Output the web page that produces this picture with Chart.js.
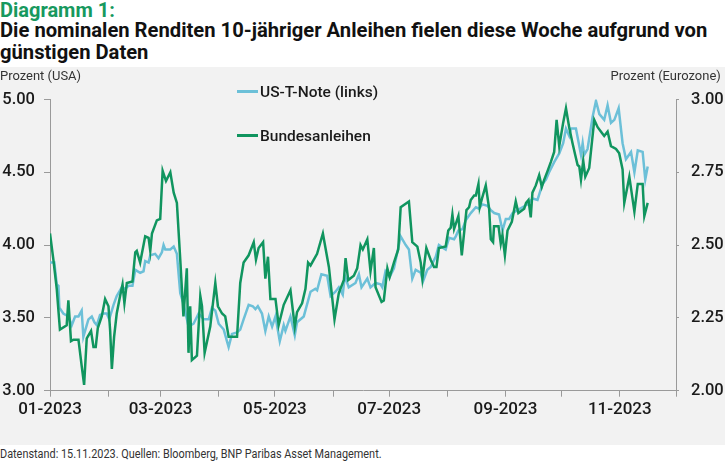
<!DOCTYPE html>
<html lang="de">
<head>
<meta charset="utf-8">
<script src="https://cdn.jsdelivr.net/npm/chart.js@4/dist/chart.umd.min.js"></script>
<style>
  html, body { margin: 0; padding: 0; background: #fff; }
  body { width: 725px; height: 463px; position: relative; overflow: hidden; font-family: Roboto, 'Noto Sans', sans-serif; color: #1a1a1a; }
  #kicker { position: absolute; left: 0; top: -2px; font-weight: 700; font-size: 20px; color: #17995e; }
  #title { position: absolute; left: 0; top: 19px; width: 760px; font-weight: 700; font-size: 20.2px; line-height: 22px; color: #111; }
  #panel { position: absolute; left: 0; top: 67px; width: 725px; height: 378px; background: #f2f2f2; }
  #chart { position: absolute; left: 0; top: 0; }
  .unit { position: absolute; top: 0px; font-size: 13.5px; color: #333; transform: scaleX(0.96); }
  #unitLeft { left: 0px; transform-origin: left top; }
  #unitRight { right: 4px; transform-origin: right top; }
  .legend { position: absolute; left: 237px; font-size: 15.5px; font-weight: 500; color: #1a1a1a; white-space: nowrap; }
  .legend i { display: inline-block; width: 21px; height: 3px; vertical-align: middle; margin-right: 2px; position: relative; top: -1px; }
  #footer { position: absolute; left: 0; top: 447px; font-size: 12.3px; color: #333; white-space: nowrap; transform: scaleX(0.885); transform-origin: left top; }
</style>
</head>
<body>
<div id="kicker">Diagramm 1:</div>
<div id="title">Die nominalen Renditen 10-jähriger Anleihen fielen diese Woche aufgrund von<br>günstigen Daten</div>
<div id="panel">
  <canvas id="chart" width="725" height="378"></canvas>
  <div class="unit" id="unitLeft">Prozent (USA)</div>
  <div class="unit" id="unitRight">Prozent (Eurozone)</div>
  <div class="legend" style="top:16px"><i style="background:#6cc0d8"></i>US-T-Note (links)</div>
  <div class="legend" style="top:60px"><i style="background:#10955f"></i>Bundesanleihen</div>
</div>
<div id="footer">Datenstand: 15.11.2023. Quellen: Bloomberg, BNP Paribas Asset Management.</div>
<script>
// x = days since 01.01.2023
const monthStarts = [0, 31, 59, 90, 120, 151, 181, 212, 243, 273, 304, 334];
const monthLabels = ['01-2023', '', '03-2023', '', '05-2023', '', '07-2023', '', '09-2023', '', '11-2023', ''];

// US-T-Note 10 J. (linke Achse, %)
const usDays = [0, 2.3, 3.6, 4.5, 5.0, 7.1, 9.8, 11.6, 13.4, 15.2, 16.9, 17.8, 19.6, 20.5, 22.3, 23.7, 25, 26.7, 28.5, 30.3,
  31.6, 33.9, 35.6, 38.3, 40.1, 41.9, 44, 45.5, 48.1, 49.9, 50.8, 52.6, 53.5, 56.1, 57.9, 59.7, 60.6, 61.5, 64.2, 66,
  67.7, 69.5, 71.2, 73.9, 76.6, 79.3, 82, 84.7, 86.4, 88.2, 90, 92.7, 94.4, 95.3, 97.1, 99.8, 101.5, 103.3, 106, 108.2,
  109.6, 110.9, 113.1, 114.9, 116.7, 118.5, 120.3, 122.6, 124.7, 125.6, 128.3, 130.6, 131.8, 135.4, 139, 141.6, 142.5, 144.8, 147.9, 149.7,
  152.3, 154.1, 156.2, 157.3, 159.4, 163, 164.8, 166.2, 169.3, 171, 173.7, 176.4, 177.3, 179, 181.2, 183.5, 187.1, 189.8, 191.5, 193.3,
  195.1, 197.8, 199, 201.3, 203.1, 205.8, 207.5, 211.1, 212.9, 215.6, 216.5, 217.9, 220.1, 221.8, 224.5, 227.2, 228.9, 230.7, 233.4, 235.2,
  237, 239.6, 241.4, 243.2, 245, 246.8, 249.4, 252.1, 254.8, 257.5, 260.1, 262.8, 264.6, 266.3, 269, 271.7, 273.8, 275.3, 277, 277.9,
  280.6, 283.3, 284.2, 285, 286.8, 289.5, 291.3, 293.1, 295.7, 297.5, 299.3, 301.1, 303.4, 305.5, 307.3, 310, 311.8, 313.6, 316.2, 317.6, 318.9];
const usYield = [3.88, 3.88, 3.73, 3.72, 3.57, 3.53, 3.51, 3.45, 3.51, 3.51, 3.55, 3.37, 3.45, 3.49, 3.51, 3.47, 3.45, 3.52, 3.53, 3.53,
  3.49, 3.59, 3.65, 3.71, 3.70, 3.72, 3.72, 3.83, 3.81, 3.82, 3.89, 3.88, 3.93, 3.94, 3.91, 3.95, 4.00, 3.97, 3.97, 3.99,
  3.94, 3.67, 3.60, 3.44, 3.46, 3.53, 3.49, 3.49, 3.57, 3.55, 3.46, 3.42, 3.34, 3.30, 3.39, 3.40, 3.42, 3.49, 3.59, 3.58,
  3.56, 3.58, 3.53, 3.41, 3.51, 3.44, 3.51, 3.34, 3.45, 3.41, 3.51, 3.38, 3.47, 3.51, 3.68, 3.70, 3.69, 3.80, 3.79, 3.65,
  3.68, 3.71, 3.66, 3.79, 3.71, 3.74, 3.80, 3.71, 3.77, 3.71, 3.74, 3.73, 3.71, 3.82, 3.78, 3.84, 4.06, 4.00, 3.97, 3.77,
  3.83, 3.81, 3.75, 3.83, 3.85, 3.92, 4.00, 3.97, 4.05, 4.04, 4.06, 4.10, 4.11, 4.17, 4.22, 4.26, 4.25, 4.28, 4.27, 4.24,
  4.22, 4.21, 4.10, 4.18, 4.18, 4.22, 4.24, 4.26, 4.28, 4.32, 4.31, 4.42, 4.45, 4.50, 4.57, 4.63, 4.70, 4.80, 4.75, 4.80,
  4.80, 4.62, 4.70, 4.62, 4.66, 4.88, 4.99, 4.90, 4.86, 4.96, 4.84, 4.86, 4.94, 4.70, 4.59, 4.64, 4.50, 4.65, 4.64, 4.45, 4.54];

// Bundesanleihen 10 J. (rechte Achse, %)
const bundDays = [0, 1.8, 3.6, 4.5, 5.3, 8.9, 9.8, 11.2, 12.5, 15.2, 16.9, 18.2, 19.6, 21.9, 23.2, 24.4, 25.5, 27.6, 29.4, 31.2,
  32.1, 33, 34.2, 35.6, 37.4, 38.7, 39.7, 41, 44, 45.5, 46.3, 48.1, 50.8, 52.6, 53.5, 54.4, 57, 58.8, 60.1, 61.9,
  64.2, 66, 67.7, 69.5, 71.2, 73, 73.9, 74.8, 75.7, 78.4, 80.2, 81.1, 82.5, 85.5, 88.2, 89.6, 91.8, 93.5, 95.3, 99.8,
  101.5, 103.3, 106, 108.7, 109.9, 111.3, 113.7, 114.9, 116.3, 117.6, 120.3, 122, 124.7, 128.3, 130.6, 131.8, 134.5, 136.3, 137.7, 139,
  142.5, 145.6, 148.8, 151.8, 154.1, 156.8, 157.7, 159.1, 162.1, 163.9, 165.7, 166.9, 169.3, 171, 172.8, 173.7, 176.9, 178.1, 180, 181.2,
  183.5, 185.8, 187.1, 191.5, 193.3, 196, 197.8, 198.7, 200.8, 203.1, 204.9, 206.2, 207.5, 211.1, 212.5, 213.8, 214.7, 215.6, 217.9, 219.7,
  222.2, 223.6, 224.5, 226.3, 227.2, 228.6, 229.3, 230.7, 232.5, 234.3, 235.2, 236.4, 236.9, 239.3, 240.5, 241.4, 242.7, 244.1, 246.4, 248.5,
  249.9, 253, 254, 255.3, 256.5, 257.4, 259.2, 261, 262.4, 263.7, 265.5, 267.2, 269, 270.3, 271.7, 273.8, 275.3, 277, 278.8, 280.2,
  281.5, 282.4, 283.3, 284.5, 285.6, 287.7, 290.4, 292.2, 294.5, 295.7, 297.5, 299.3, 302, 303.7, 305.5, 306.4, 309.1, 311.8, 313.6, 316.2,
  317.1, 318.9];
const bundYield = [2.54, 2.45, 2.35, 2.275, 2.21, 2.225, 2.31, 2.17, 2.175, 2.175, 2.085, 2.02, 2.18, 2.205, 2.15, 2.15, 2.215, 2.255, 2.315, 2.29,
  2.205, 2.075, 2.185, 2.265, 2.325, 2.365, 2.30, 2.37, 2.375, 2.475, 2.48, 2.44, 2.53, 2.525, 2.48, 2.54, 2.585, 2.59, 2.755, 2.72,
  2.75, 2.68, 2.645, 2.45, 2.255, 2.42, 2.13, 2.29, 2.105, 2.12, 2.325, 2.29, 2.13, 2.22, 2.37, 2.29, 2.265, 2.255, 2.185, 2.185,
  2.37, 2.44, 2.465, 2.51, 2.45, 2.49, 2.51, 2.385, 2.46, 2.315, 2.315, 2.225, 2.295, 2.345, 2.22, 2.27, 2.30, 2.35, 2.44, 2.43,
  2.47, 2.54, 2.425, 2.245, 2.335, 2.38, 2.455, 2.38, 2.395, 2.42, 2.50, 2.485, 2.52, 2.41, 2.49, 2.355, 2.305, 2.31, 2.42, 2.39,
  2.44, 2.485, 2.63, 2.65, 2.51, 2.495, 2.44, 2.385, 2.49, 2.45, 2.425, 2.425, 2.49, 2.495, 2.55, 2.56, 2.605, 2.555, 2.60, 2.465,
  2.62, 2.63, 2.655, 2.67, 2.67, 2.71, 2.63, 2.665, 2.705, 2.625, 2.52, 2.51, 2.565, 2.565, 2.505, 2.535, 2.465, 2.55, 2.58, 2.65,
  2.61, 2.625, 2.645, 2.655, 2.595, 2.68, 2.705, 2.74, 2.70, 2.725, 2.755, 2.785, 2.82, 2.93, 2.84, 2.92, 2.97, 2.905, 2.85, 2.81,
  2.775, 2.77, 2.725, 2.79, 2.735, 2.765, 2.93, 2.905, 2.885, 2.875, 2.89, 2.84, 2.83, 2.815, 2.76, 2.645, 2.735, 2.615, 2.71, 2.71,
  2.60, 2.645];

const tickFont = { family: 'Roboto', size: 16.5, weight: '500' };
const xTickFont = { family: 'Roboto', size: 17, weight: '500' };
const axisGrey = '#9a9a9a';

new Chart(document.getElementById('chart'), {
  type: 'line',
  data: {
    datasets: [{
      label: 'US-T-Note (links)',
      data: usDays.map((d, i) => ({ x: d, y: usYield[i] })),
      borderColor: '#6cc0d8',
      borderWidth: 2.5,
      pointRadius: 0,
      yAxisID: 'y',
      order: 1
    }, {
      label: 'Bundesanleihen',
      data: bundDays.map((d, i) => ({ x: d, y: bundYield[i] })),
      borderColor: '#10955f',
      borderWidth: 2.5,
      pointRadius: 0,
      yAxisID: 'y1',
      order: 0
    }]
  },
  options: {
    responsive: false,
    animation: false,
    layout: { padding: { top: 32.5, left: 0, right: 0, bottom: 0 } },
    plugins: { legend: { display: false }, tooltip: { enabled: false } },
    scales: {
      x: {
        type: 'linear',
        min: 0,
        max: 334,
        afterBuildTicks: (s) => { s.ticks = monthStarts.map(v => ({ value: v })); },
        afterFit: (s) => { s.height = 54.3; },
        ticks: {
          autoSkip: false,
          maxRotation: 0,
          padding: 3,
          color: '#1a1a1a',
          font: xTickFont,
          callback: (v, i) => monthLabels[i]
        },
        grid: { drawOnChartArea: false, tickLength: 6, color: axisGrey },
        border: { color: axisGrey }
      },
      y: {
        position: 'left',
        min: 3,
        max: 5,
        afterBuildTicks: (s) => { s.ticks = [3, 3.5, 4, 4.5, 5].map(v => ({ value: v })); },
        afterFit: (s) => { s.width = 50; },
        ticks: { color: '#1a1a1a', font: tickFont, padding: 9, callback: v => v.toFixed(2) },
        grid: { drawOnChartArea: false, tickLength: 6, color: axisGrey },
        border: { color: axisGrey }
      },
      y1: {
        position: 'right',
        min: 2,
        max: 3,
        afterBuildTicks: (s) => { s.ticks = [2, 2.25, 2.5, 2.75, 3].map(v => ({ value: v })); },
        afterFit: (s) => { s.width = 49; },
        ticks: { color: '#1a1a1a', font: tickFont, padding: 12, callback: v => v.toFixed(2) },
        grid: { drawOnChartArea: false, tickLength: 3, color: axisGrey },
        border: { color: axisGrey }
      }
    }
  }
});
</script>
</body>
</html>
